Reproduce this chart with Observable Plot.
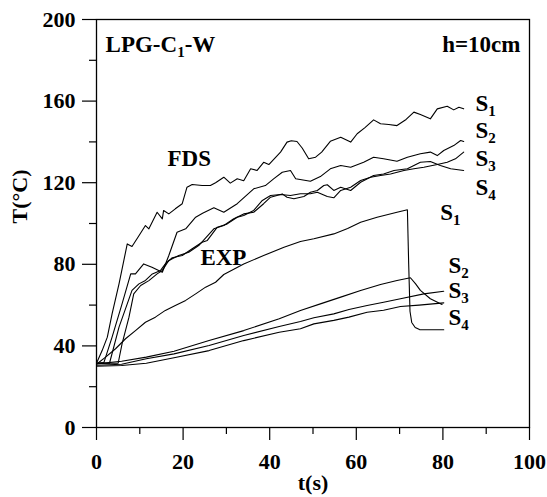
<!DOCTYPE html>
<html><head><meta charset="utf-8">
<script src="https://cdn.jsdelivr.net/npm/d3@7"></script>
<script src="https://cdn.jsdelivr.net/npm/@observablehq/plot@0.6"></script>
<style>body{margin:0;background:#fff}</style>
</head><body><div id="chart"></div>
<script>
// ---- data: [t (s), T (°C)] ----
const fdsS1 = [[0,31.5],[1.3,37.7],[2.5,44.3],[3.6,55.7],[5.2,70.4],[7.1,90],[8.2,88.7],[9.5,93],[11.3,99],[12.1,97.4],[14,105.5],[15.2,102.3],[15.5,106.4],[16.7,104.7],[18.2,107.2],[19.8,109.7],[20.9,117.8],[22.1,119.1],[24.4,118.6],[26.3,118.6],[27.5,120],[29.4,122.7],[30.9,119.8],[32.5,121.9],[34,121],[35.6,126.8],[37.1,126],[38.6,130],[39.8,128.9],[42.5,135],[44,139.9],[45,140.6],[46.3,140.2],[47.5,137],[49,131.7],[50.6,132.5],[52,135],[54,140.3],[56.4,142.3],[58.7,139.9],[60.2,144],[62,147],[64,150.8],[65.6,148.9],[67.5,148.5],[69.4,148],[71.5,151],[73.3,154.6],[74.8,153.4],[77.1,151.3],[78.7,156.2],[81,157.5],[82.5,155.7],[83.7,157],[84.8,156.2]];
const fdsS2 = [[0,31.5],[1.7,31.8],[3.6,44.3],[5.9,60.6],[7.9,75.3],[9,75.3],[10.9,80.2],[12.8,78.6],[15.2,76.1],[16.7,84.3],[18.6,95.7],[20.6,97.4],[22.9,103.1],[24.5,105],[27.1,107.7],[29.4,105.5],[32.5,109.7],[36.3,117],[39,118.6],[40.9,121.9],[42.9,125.1],[44.8,126],[46,121.9],[49.4,120.7],[51.7,123],[54,126.8],[56.4,128.4],[58.7,127.6],[61.7,130],[64,132.5],[66.3,131.7],[69.4,130.5],[71.8,132.5],[74.8,134.2],[77.1,135],[78.7,133.3],[80.2,135.8],[82.5,138.2],[84.1,140.7],[84.8,140.2]];
const fdsS3 = [[0,31.5],[3,31.5],[5.2,49.2],[7.1,60.6],[8.2,67.2],[9.8,70.4],[11.3,72.1],[12.9,75.3],[14.8,77],[15.9,80.2],[17.5,83.2],[19.8,84.3],[22.1,87.6],[24.4,90.8],[25.6,91.7],[27.9,98.2],[30.2,99.8],[32.5,103.1],[34,103.9],[36.3,106.4],[38.3,111.3],[40.2,113.7],[42.5,114.2],[44.8,113.7],[47.1,114.6],[49.4,114.6],[51,115.3],[53.3,113.2],[54.8,112.6],[56.4,116.2],[58.7,117.8],[61,121.1],[63.3,122.7],[65.6,123.5],[67.9,124.3],[71,126],[73.3,126.8],[75.6,127.6],[78.7,128.9],[81,130],[82.9,131.7],[84.8,135]];
const fdsS4 = [[0,31.5],[5,31.5],[5.9,41],[7.5,54.1],[8.6,65.5],[10.2,69.6],[12.1,72],[14,75.3],[15.2,77],[16.7,81.9],[19,84.3],[21.3,85.9],[23.6,89.2],[24.7,91.7],[27.1,97.4],[29.4,99],[31.7,102.3],[34,104.7],[36.3,105.5],[38.6,109.7],[40.2,112.9],[42.9,114.5],[44,112.9],[45.6,112.1],[47.9,113.2],[49.4,115.3],[51,116.2],[52.5,118.6],[53.3,119],[54.8,116.2],[56.4,117.8],[58.7,116.2],[61,120.2],[64,123.5],[66.3,124.3],[68.7,126],[71.8,126.8],[74.8,130],[77.1,130.4],[79.4,128.4],[81.8,126.8],[84.8,126]];
const expS1 = [[0,31],[2.1,34.5],[4.4,38.6],[6.7,43.5],[9,47.5],[11.3,51.6],[13.6,54.1],[15.9,57.4],[18.2,59.8],[20.6,62.3],[22.9,65.5],[25.2,68.8],[27.5,71.2],[29.4,75],[34,80.2],[38.6,84.3],[43.3,88.4],[47.1,91.2],[50.2,92.5],[54.8,94.9],[58,97.5],[61,100.6],[64.8,103.1],[69.4,105.5],[71.8,106.7],[72.1,80],[72.4,57],[72.8,51.5],[73.6,49],[74.6,48],[77.1,47.9],[80.2,47.9]];
const expS2 = [[0,31.2],[5.8,32.5],[11.5,34.5],[17.9,37.4],[26,42.6],[34,47.5],[42.2,53.3],[47.1,57.4],[51.7,60.6],[56.4,63.9],[61,67.2],[65.6,70.1],[69.4,72.1],[72.5,73.4],[73.7,70.4],[74.8,67.2],[77.1,63.1],[79.8,60.3]];
const expS3 = [[0,30.5],[5.8,31],[11.5,33.7],[17.9,36.1],[26,40.2],[34,45.1],[42.2,49.5],[47.1,52],[50.2,53.8],[54.8,55.7],[58.3,57.8],[62.5,59.8],[66.3,61.4],[70.2,63.1],[75.6,65.5],[80.2,66.8]];
const expS4 = [[0,30],[5.8,30.4],[11.5,31.5],[17.9,34.2],[26,37.7],[34,42.6],[42.2,46.7],[47.1,48.4],[50.2,50.8],[54.8,52.5],[58.3,54.1],[62.5,56.5],[66.3,57.5],[70.2,59.3],[74.5,60],[80.2,61.1]];

const seriesNames = ["FDS S1","FDS S2","FDS S3","FDS S4","EXP S1","EXP S2","EXP S3","EXP S4"];
const seriesData = [fdsS1,fdsS2,fdsS3,fdsS4,expS1,expS2,expS3,expS4];

const xMajor = [0,20,40,60,80,100];
const xMinor = [10,30,50,70,90];
const yMajor = [0,40,80,120,160,200];
const yMinor = [20,60,100,140,180];

// annotations (data coordinates)
const labelTexts = ["LPG-C_1-W","h=10cm","FDS","EXP","S_1","S_2","S_3","S_4","S_1","S_2","S_3","S_4"];
const labelT = [2.1,97.9,16.4,24,87.5,87.5,87.5,87.5,79.4,81.3,81.3,81.3];
const labelY = [187.7,187.7,131.6,83.1,159,145.3,131.6,117.4,105.1,79.2,67.2,53.7];
const labelAnchor = ["start","end","start","start","start","start","start","start","start","start","start","start"];

const rows = seriesData.flatMap((pts, i) => pts.map(([t, T]) => ({series: seriesNames[i], t, T})));
const labels = labelTexts.map((text, i) => ({text, t: labelT[i], T: labelY[i], anchor: labelAnchor[i]}));

const font = "'Liberation Serif','Times New Roman',serif";
const plot = Plot.plot({
  width: 547, height: 497,
  marginLeft: 96, marginRight: 18, marginTop: 19, marginBottom: 70,
  style: {fontFamily: font, fontWeight: "bold", fontSize: "22px", color: "black", background: "white"},
  x: {domain: [0, 100]},
  y: {domain: [0, 200]},
  marks: [
    Plot.axisX(xMajor, {tickSize: 13, tickPadding: 13, label: null, fontSize: 22, strokeWidth: 1.2}),
    Plot.axisX(xMinor, {tickSize: 7, tickFormat: () => "", label: null, strokeWidth: 1.2}),
    Plot.axisY(yMajor, {tickSize: 14, tickPadding: 7, label: null, fontSize: 22, strokeWidth: 1.2}),
    Plot.axisY(yMinor, {tickSize: 7, tickFormat: () => "", label: null, strokeWidth: 1.2}),
    Plot.frame({stroke: "black", strokeWidth: 1.3}),
    Plot.line(rows, {x: "t", y: "T", z: "series", stroke: "black", strokeWidth: 1.1}),
    Plot.text(labels.filter(d => d.anchor === "start"), {x: "t", y: "T", text: "text", textAnchor: "start", fontSize: 23, fontWeight: "bold"}),
    Plot.text(labels.filter(d => d.anchor === "end"), {x: "t", y: "T", text: "text", textAnchor: "end", fontSize: 23, fontWeight: "bold"}),
    Plot.text(["t(s)"], {frameAnchor: "bottom", dy: 62, fontSize: 22, fontWeight: "bold"}),
    Plot.text(["T(°C)"], {frameAnchor: "left", dx: -77, rotate: -90, fontSize: 22, fontWeight: "bold"})
  ]
});

// subscripts
const ns = "http://www.w3.org/2000/svg";
d3.select(plot).selectAll("text").each(function() {
  const s = this.textContent;
  const m = s.match(/^(.*?)_(\d)(.*)$/);
  if (!m) return;
  this.textContent = "";
  const a = document.createElementNS(ns, "tspan"); a.textContent = m[1]; this.appendChild(a);
  const b = document.createElementNS(ns, "tspan"); b.textContent = m[2];
  b.setAttribute("font-size", "15px"); b.setAttribute("dy", "5"); this.appendChild(b);
  if (m[3]) {
    const c = document.createElementNS(ns, "tspan"); c.textContent = m[3];
    c.setAttribute("dy", "-5"); this.appendChild(c);
  }
});

document.getElementById("chart").appendChild(plot);
</script>
</body></html>
